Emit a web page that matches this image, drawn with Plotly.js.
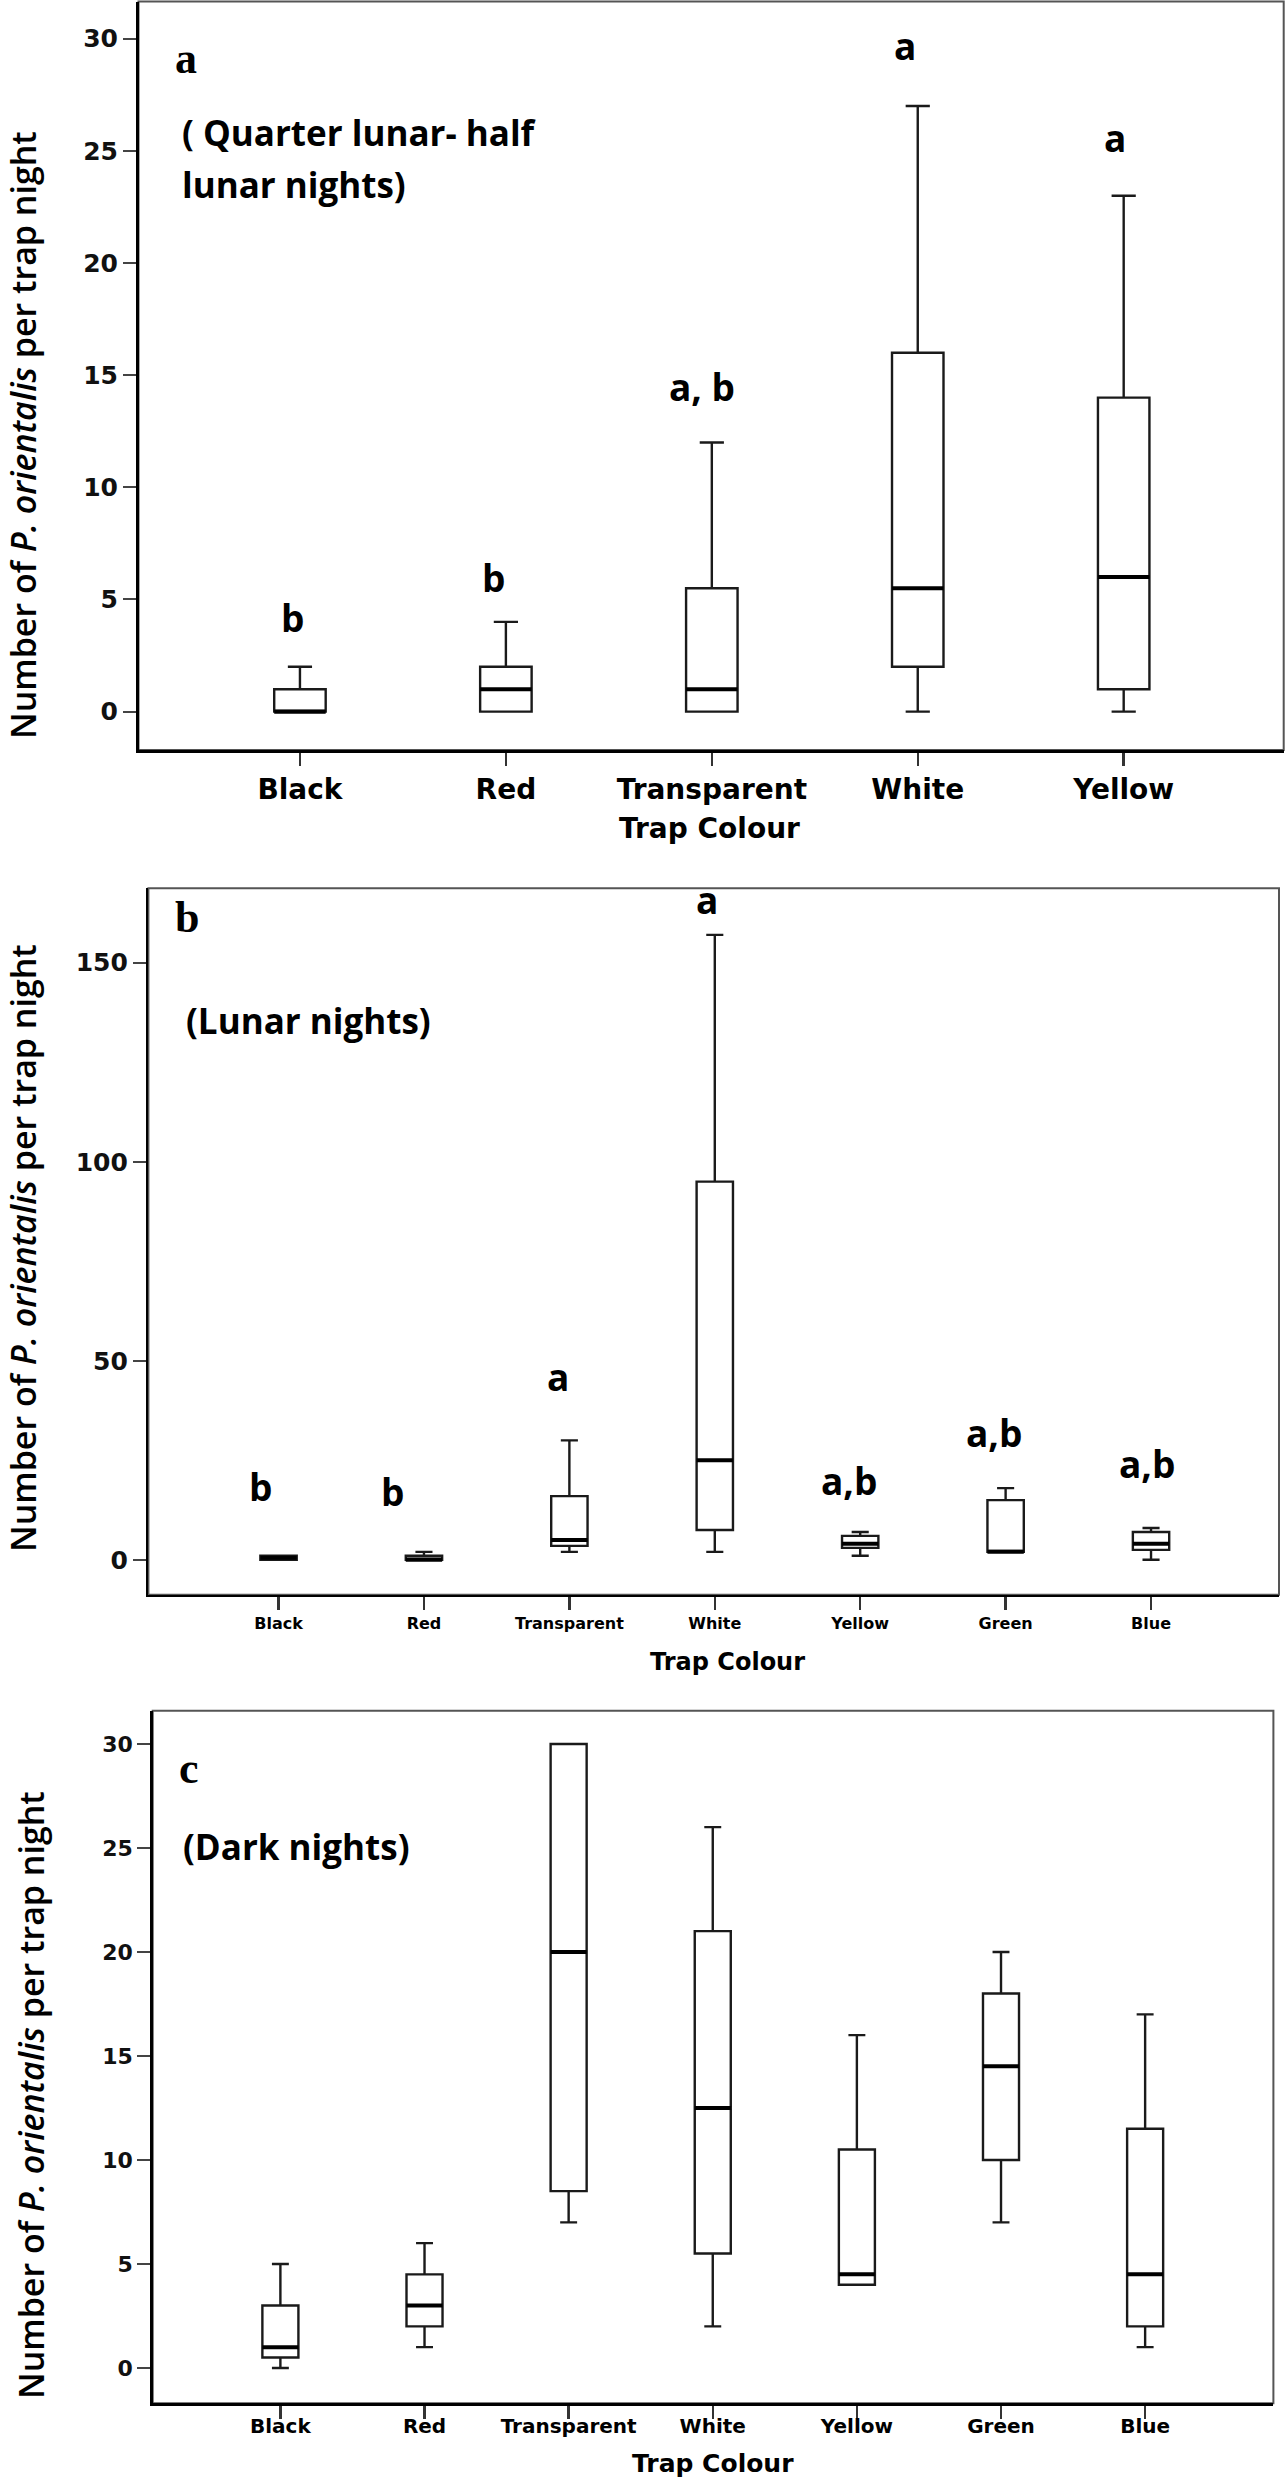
<!DOCTYPE html>
<html><head><meta charset="utf-8">
<script src="https://cdn.plot.ly/plotly-3.0.1.min.js"></script>
<style>body{margin:0;background:#fff}</style>
</head><body><div id="chart" style="width:1286px;height:2480px"></div>
<script>
// ---------- DATA ----------
// Panel a: Quarter lunar - half lunar nights
const catsA = ['Black','Red','Transparent','White','Yellow'];
const minA  = [0, 0, 0, 0, 0];
const q1A   = [0, 0, 0, 2, 1];
const medA  = [0, 1, 1, 5.5, 6];
const q3A   = [1, 2, 5.5, 16, 14];
const maxA  = [2, 4, 12, 27, 23];
const lettersA = ['b','b','a, b','a','a'];
const ticksA = [0,5,10,15,20,25,30];

// Panel b: Lunar nights
const catsB = ['Black','Red','Transparent','White','Yellow','Green','Blue'];
const minB  = [0, 0, 2, 2, 1, 2, 0];
const q1B   = [0, 0, 3.5, 7.5, 3, 2, 2.5];
const medB  = [0.5, 0, 5, 25, 4, 2, 4];
const q3B   = [1, 1, 16, 95, 6, 15, 7];
const maxB  = [1, 2, 30, 157, 7, 18, 8];
const lettersB = ['b','b','a','a','a,b','a,b','a,b'];
const ticksB = [0,50,100,150];

// Panel c: Dark nights
const catsC = ['Black','Red','Transparent','White','Yellow','Green','Blue'];
const minC  = [0, 1, 7, 2, 4, 7, 1];
const q1C   = [0.5, 2, 8.5, 5.5, 4, 10, 2];
const medC  = [1, 3, 20, 12.5, 4.5, 14.5, 4.5];
const q3C   = [3, 4.5, 30, 21, 10.5, 18, 11.5];
const maxC  = [5, 6, 30, 26, 16, 20, 17];
const ticksC = [0,5,10,15,20,25,30];

const yTitle = 'Number of <i>P. orientalis</i> per trap night';
const xTitle = 'Trap Colour';

// ---------- LAYOUT HELPERS ----------
const W = 1286, H = 2480;
const dx = (a,b) => [a/W, b/W];
const dy = (top,bottom) => [1-bottom/H, 1-top/H];
const px = v => v/W;
const py = v => 1 - v/H;

// letter label placement (y in data units, x shift in px)
const letterPosA = {y:[4.2, 6.0, 14.5, 29.7, 25.6], shift:[-7,-12,-10,-13,-9]};
const letterPosB = {y:[18.3, 17.1, 46, 166, 19.8, 32, 24.2], shift:[-18,-31,-11,-8,-11,-12,-4]};

function boxTrace(cats, lo, q1, med, q3, hi, xa, ya){
  return {
    type:'box', x:cats, lowerfence:lo, q1:q1, median:med, q3:q3, upperfence:hi,
    xaxis:xa, yaxis:ya, width:0.25, whiskerwidth:0.47,
    fillcolor:'#ffffff', line:{color:'#1a1a1a', width:2.4},
    boxpoints:false, hoverinfo:'skip', showlegend:false
  };
}

const data = [
  boxTrace(catsA, minA, q1A, medA, q3A, maxA, 'x', 'y'),
  boxTrace(catsB, minB, q1B, medB, q3B, maxB, 'x2', 'y2'),
  boxTrace(catsC, minC, q1C, medC, q3C, maxC, 'x3', 'y3')
];

function xAxis(domain, range, fontSize, anchor, standoff){
  return {domain:domain, type:'category', range:range, anchor:anchor,
    showline:true, linecolor:'#000', linewidth:2.5,
    ticks:'outside', ticklen:13, tickwidth:2.5, tickcolor:'#333',
    ticklabelstandoff:standoff,
    tickfont:{family:'DejaVu Sans', size:fontSize, color:'#000', weight:'bold'},
    showgrid:false, zeroline:false, fixedrange:true};
}
function yAxis(domain, range, tickvals, fontSize, anchor){
  return {domain:domain, range:range, anchor:anchor, tickvals:tickvals,
    showline:true, linecolor:'#000', linewidth:2.5,
    ticks:'outside', ticklen:13, tickwidth:2, tickcolor:'#444',
    tickfont:{family:'DejaVu Sans', size:fontSize, color:'#111', weight:'bold'},
    showgrid:false, zeroline:false, fixedrange:true};
}

const shapes = [];
// frames (top/right grey lines)
[['x','y'],['x2','y2'],['x3','y3']].forEach(([xa,ya])=>{
  shapes.push({type:'rect', xref:xa+' domain', yref:ya+' domain', x0:0, x1:1, y0:0, y1:1,
    line:{color:'#555', width:2}, layer:'below'});
});
// thick median lines built from the median arrays
function medianShapes(med, xa, ya){
  med.forEach((m,i)=>{
    shapes.push({type:'line', xref:xa, yref:ya, x0:i-0.125, x1:i+0.125, y0:m, y1:m,
      line:{color:'#000', width:4}, layer:'above'});
  });
}
medianShapes(medA,'x','y');
medianShapes(medB,'x2','y2');
medianShapes(medC,'x3','y3');

const ann = [];
function addAnn(o){ ann.push(Object.assign({showarrow:false, xanchor:'center', yanchor:'middle'}, o)); }

const letterFont = {family:'Open Sans', size:37, color:'#000', weight:'bold'};
lettersA.forEach((t,i)=>addAnn({xref:'x', yref:'y', x:catsA[i], y:letterPosA.y[i], xshift:letterPosA.shift[i], text:t, font:letterFont}));
lettersB.forEach((t,i)=>addAnn({xref:'x2', yref:'y2', x:catsB[i], y:letterPosB.y[i], xshift:letterPosB.shift[i], text:t, font:letterFont}));

const panelFont = {family:'Liberation Serif', size:44, color:'#000', weight:'bold'};
addAnn({xref:'paper', yref:'paper', x:px(186), y:py(58), text:'a', font:panelFont});
addAnn({xref:'paper', yref:'paper', x:px(187), y:py(918), text:'b', font:panelFont});
addAnn({xref:'paper', yref:'paper', x:px(189), y:py(1768), text:'c', font:panelFont});

const noteFont = {family:'Open Sans', size:35, color:'#000', weight:'bold'};
addAnn({xref:'paper', yref:'paper', x:px(180), y:py(132), xanchor:'left', text:'( Quarter lunar- half', font:noteFont});
addAnn({xref:'paper', yref:'paper', x:px(180), y:py(184), xanchor:'left', text:'lunar nights)', font:noteFont});
addAnn({xref:'paper', yref:'paper', x:px(184), y:py(1020), xanchor:'left', text:'(Lunar nights)', font:noteFont});
addAnn({xref:'paper', yref:'paper', x:px(181), y:py(1846), xanchor:'left', text:'(Dark nights)', font:noteFont});

const yTitleFont = {family:'Open Sans', size:34, color:'#000', weight:600};
addAnn({xref:'paper', yref:'paper', x:px(23), y:py(435), text:yTitle, textangle:-90, font:yTitleFont});
addAnn({xref:'paper', yref:'paper', x:px(23), y:py(1248), text:yTitle, textangle:-90, font:yTitleFont});
addAnn({xref:'paper', yref:'paper', x:px(31), y:py(2095), text:yTitle, textangle:-90, font:yTitleFont});

addAnn({xref:'paper', yref:'paper', x:px(709), y:py(828), text:xTitle, font:{family:'DejaVu Sans', size:28, color:'#000', weight:'bold'}});
addAnn({xref:'paper', yref:'paper', x:px(727), y:py(1662), text:xTitle, font:{family:'DejaVu Sans', size:24, color:'#000', weight:'bold'}});
addAnn({xref:'paper', yref:'paper', x:px(713), y:py(2463), text:xTitle, font:{family:'DejaVu Sans', size:25, color:'#000', weight:'bold'}});

const layout = {
  width:W, height:H, margin:{l:0,r:0,t:0,b:0},
  paper_bgcolor:'#fff', plot_bgcolor:'#fff', showlegend:false,
  xaxis:  xAxis(dx(138.5,1283.7), [-0.784,4.777], 28, 'y', 0),
  yaxis:  yAxis(dy(1.5,750), [-1.71,31.66], ticksA, 25, 'x'),
  xaxis2: xAxis(dx(148.4,1279), [-0.895,6.88], 16, 'y2', 0),
  yaxis2: yAxis(dy(888.3,1594.7), [-8.77,168.7], ticksB, 25, 'x2'),
  xaxis3: xAxis(dx(152.7,1273.4), [-0.886,6.89], 20, 'y3', -10),
  yaxis3: yAxis(dy(1710.7,2403.3), [-1.7,31.6], ticksC, 22, 'x3'),
  shapes:shapes, annotations:ann
};

Plotly.newPlot('chart', data, layout, {displayModeBar:false, staticPlot:true});
</script>
</body></html>
